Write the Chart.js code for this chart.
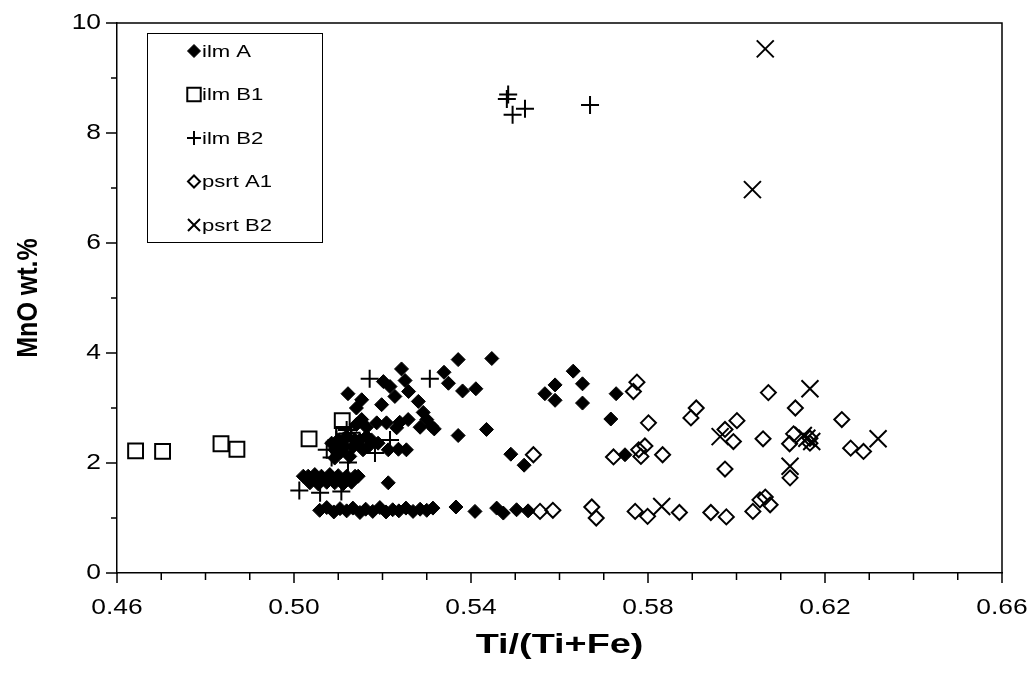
<!DOCTYPE html>
<html>
<head>
<meta charset="utf-8">
<script src="https://cdn.jsdelivr.net/npm/chart.js@4.4.1/dist/chart.umd.min.js"></script>
<style>
    html, body { margin: 0; padding: 0; background: #fff; }
    #wrap { width: 1027px; height: 682px; }
</style>
</head>
<body>
<div id="wrap"><canvas id="chart" width="1027" height="682"></canvas></div>
<script>
// Séries: [Ti/(Ti+Fe), MnO wt.%]
const ilmA = [
    [0.5371, 3.88], [0.5447, 3.90], [0.5339, 3.65], [0.5349, 3.45], [0.5381, 3.31], [0.5411, 3.35],
    [0.5631, 3.67], [0.5590, 3.42], [0.5652, 3.44], [0.5567, 3.26], [0.5590, 3.14], [0.5652, 3.09],
    [0.5728, 3.26], [0.5716, 2.80], [0.5371, 2.50], [0.5435, 2.61], [0.5490, 2.16], [0.5520, 1.96],
    [0.5748, 2.15], [0.5366, 1.20], [0.5409, 1.12], [0.5458, 1.18], [0.5473, 1.09], [0.5503, 1.15],
    [0.5529, 1.13],
    [0.5243, 3.71], [0.5202, 3.48], [0.5251, 3.50], [0.5217, 3.39], [0.5259, 3.30], [0.5122, 3.26],
    [0.5228, 3.21], [0.5153, 3.15], [0.5198, 3.06], [0.5281, 3.12], [0.5141, 3.00], [0.5292, 2.92],
    [0.5300, 2.79], [0.5311, 2.67], [0.5153, 2.79], [0.5187, 2.73], [0.5209, 2.73], [0.5239, 2.74],
    [0.5258, 2.79], [0.5141, 2.70], [0.5164, 2.65], [0.5232, 2.64], [0.5285, 2.65], [0.5317, 2.62],
    [0.5119, 2.48], [0.5164, 2.48], [0.5213, 2.24], [0.5236, 2.25], [0.5254, 2.24], [0.5100, 2.42],
    [0.5107, 2.21], [0.5092, 2.09], [0.5134, 2.30], [0.5149, 2.42], [0.5156, 2.24], [0.5126, 2.12],
    [0.5213, 1.64], [0.5085, 2.36], [0.5115, 2.30], [0.5138, 2.42], [0.5168, 2.30], [0.5175, 2.42],
    [0.5190, 2.36], [0.5092, 2.24],
    [0.5021, 1.76], [0.5032, 1.76], [0.5047, 1.79], [0.5062, 1.76], [0.5081, 1.79], [0.5100, 1.77],
    [0.5119, 1.76], [0.5138, 1.76], [0.5145, 1.76], [0.5036, 1.64], [0.5055, 1.62], [0.5074, 1.65],
    [0.5092, 1.64], [0.5111, 1.62], [0.5130, 1.65],
    [0.5058, 1.14], [0.5074, 1.19], [0.5090, 1.11], [0.5104, 1.17], [0.5119, 1.13], [0.5133, 1.18],
    [0.5149, 1.10], [0.5162, 1.16], [0.5178, 1.12], [0.5194, 1.19], [0.5208, 1.11], [0.5223, 1.15],
    [0.5237, 1.13], [0.5253, 1.18], [0.5269, 1.12], [0.5285, 1.16], [0.5300, 1.14], [0.5314, 1.18]
];
const ilmB1 = [
    [0.4642, 2.22], [0.4703, 2.21], [0.4835, 2.35], [0.4871, 2.25], [0.5034, 2.44], [0.5109, 2.77],
    [0.5112, 2.52], [0.5120, 2.40]
];
const ilmB2 = [
    [0.5484, 8.70], [0.5481, 8.62], [0.5494, 8.33], [0.5522, 8.44], [0.5669, 8.51], [0.5171, 3.53],
    [0.5307, 3.53], [0.5012, 1.50], [0.5074, 2.24], [0.5122, 2.01], [0.5183, 2.18], [0.5059, 1.46],
    [0.5107, 1.48], [0.5096, 2.42], [0.5119, 2.60], [0.5217, 2.42], [0.5130, 2.55], [0.5085, 2.10]
];
const psrtA1 = [
    [0.5541, 2.15], [0.5556, 1.12], [0.5585, 1.14], [0.5673, 1.20], [0.5683, 1.00], [0.5722, 2.11],
    [0.5767, 3.30], [0.5775, 3.47], [0.5771, 1.12], [0.5779, 2.24], [0.5801, 2.73], [0.5793, 2.31],
    [0.5784, 2.12], [0.5833, 2.15], [0.5799, 1.03], [0.5871, 1.10], [0.5942, 1.10], [0.5977, 1.02],
    [0.5909, 3.00], [0.5897, 2.82], [0.5974, 2.61], [0.6001, 2.77], [0.5993, 2.39], [0.5974, 1.89],
    [0.6060, 2.44], [0.6072, 3.28], [0.6133, 3.00], [0.6120, 2.35], [0.6129, 2.53], [0.6166, 2.36],
    [0.6121, 1.73], [0.6037, 1.12], [0.6053, 1.33], [0.6065, 1.38], [0.6076, 1.24], [0.6238, 2.79],
    [0.6258, 2.27], [0.6287, 2.21], [0.6166, 2.45]
];
const psrtB2 = [
    [0.6065, 9.53], [0.6036, 6.97], [0.5831, 1.21], [0.5963, 2.48], [0.6166, 3.35], [0.6121, 1.94],
    [0.6159, 2.45], [0.6170, 2.39], [0.6320, 2.44], [0.6151, 2.50]
];

const seriesNames = ['ilm A', 'ilm B1', 'ilm B2', 'psrt A1', 'psrt B2'];
const xTicks = [0.46, 0.50, 0.54, 0.58, 0.62, 0.66];
const xMinorTicks = [0.47, 0.48, 0.49, 0.51, 0.52, 0.53, 0.55, 0.56, 0.57, 0.59, 0.60, 0.61, 0.63, 0.64, 0.65];
const yTicks = [0, 2, 4, 6, 8, 10];
const yMinorTicks = [1, 3, 5, 7, 9];
const xTitle = 'Ti/(Ti+Fe)';
const yTitle = 'MnO wt.%';

const FONT = 'Arial, "Liberation Sans", sans-serif';

const toPoints = arr => arr.map(p => ({ x: p[0], y: p[1] }));

// Estilo dos marcadores (tipo Excel)
const markers = [
    { pointStyle: 'rectRot', radius: 7, borderWidth: 1, backgroundColor: '#000', legendRadius: 6.5 },
    { pointStyle: 'rect', radius: 10.5, borderWidth: 2, backgroundColor: 'rgba(0,0,0,0)', legendRadius: 9.5 },
    { pointStyle: 'cross', radius: 9, borderWidth: 2, backgroundColor: 'rgba(0,0,0,0)', legendRadius: 7 },
    { pointStyle: 'rectRot', radius: 7.5, borderWidth: 2, backgroundColor: 'rgba(0,0,0,0)', legendRadius: 6 },
    { pointStyle: 'crossRot', radius: 12, borderWidth: 2, backgroundColor: 'rgba(0,0,0,0)', legendRadius: 8.5 }
];

const allSeries = [ilmA, ilmB1, ilmB2, psrtA1, psrtB2];

const datasets = allSeries.map((s, i) => ({
    label: seriesNames[i],
    data: toPoints(s),
    pointStyle: markers[i].pointStyle,
    pointRadius: markers[i].radius,
    pointHoverRadius: markers[i].radius,
    pointBorderWidth: markers[i].borderWidth,
    pointBorderColor: '#000',
    pointBackgroundColor: markers[i].backgroundColor,
    borderColor: '#000',
    backgroundColor: markers[i].backgroundColor,
    showLine: false
}));

// texto com leve esticamento horizontal, como no original
function stretchText(ctx, text, x, y, align, font, sx, rotate) {
    ctx.save();
    ctx.font = font;
    ctx.fillStyle = '#000';
    ctx.textBaseline = 'middle';
    ctx.textAlign = align;
    ctx.translate(x, y);
    if (rotate) {
        ctx.rotate(-Math.PI / 2);
        ctx.scale(1, sx);
    } else {
        ctx.scale(sx, 1);
    }
    ctx.fillText(text, 0, 0);
    ctx.restore();
}

// Moldura, ticks, rótulos e legenda
const extras = {
    id: 'extras',
    afterDraw(chart) {
        const ctx = chart.ctx;
        const { left, right, top, bottom } = chart.chartArea;
        const xs = chart.scales.x;
        const ys = chart.scales.y;
        ctx.save();
        ctx.strokeStyle = '#000';
        ctx.lineWidth = 1.5;
        ctx.beginPath();
        ctx.moveTo(left, top);
        ctx.lineTo(right, top);
        ctx.lineTo(right, bottom);
        xTicks.forEach(v => {
            const px = xs.getPixelForValue(v);
            ctx.moveTo(px, bottom);
            ctx.lineTo(px, bottom + 10);
        });
        xMinorTicks.forEach(v => {
            const px = xs.getPixelForValue(v);
            ctx.moveTo(px, bottom);
            ctx.lineTo(px, bottom + 7);
        });
        yTicks.forEach(v => {
            const py = ys.getPixelForValue(v);
            ctx.moveTo(left - 11, py);
            ctx.lineTo(left, py);
        });
        yMinorTicks.forEach(v => {
            const py = ys.getPixelForValue(v);
            ctx.moveTo(left - 6, py);
            ctx.lineTo(left, py);
        });
        ctx.stroke();

        // rótulos dos eixos
        const tickFont = '22px ' + FONT;
        xTicks.forEach(v => stretchText(ctx, v.toFixed(2), xs.getPixelForValue(v), 608, 'center', tickFont, 1.2));
        yTicks.forEach(v => stretchText(ctx, String(v), 101, ys.getPixelForValue(v), 'right', tickFont, 1.2));
        stretchText(ctx, xTitle, (left + right) / 2, 646, 'center', 'bold 27px ' + FONT, 1.4);
        stretchText(ctx, yTitle, 29, (top + bottom) / 2, 'center', 'bold 25px ' + FONT, 1.2, true);

        // legenda
        const bx = 147, by = 33, bw = 175, bh = 209;
        ctx.fillStyle = '#fff';
        ctx.fillRect(bx, by, bw, bh);
        ctx.strokeStyle = '#000';
        ctx.lineWidth = 1;
        ctx.strokeRect(bx + 0.5, by + 0.5, bw, bh);
        chart.data.datasets.forEach((ds, i) => {
            const cy = by + 18 + i * 43.5;
            const m = markers[i];
            ctx.fillStyle = m.backgroundColor;
            ctx.strokeStyle = '#000';
            ctx.lineWidth = m.borderWidth;
            Chart.helpers.drawPoint(ctx, {
                pointStyle: m.pointStyle,
                radius: m.legendRadius,
                borderWidth: m.borderWidth,
                rotation: 0
            }, 194, cy);
            stretchText(ctx, ds.label, 202, cy + 1, 'left', '17px ' + FONT, 1.3);
        });
        ctx.restore();
    }
};

new Chart(document.getElementById('chart'), {
    type: 'scatter',
    data: { datasets },
    options: {
        responsive: false,
        animation: false,
        events: [],
        layout: { padding: { left: 0, top: 23, right: 25, bottom: 0 } },
        plugins: {
            legend: { display: false },
            tooltip: { enabled: false }
        },
        scales: {
            x: {
                type: 'linear',
                min: 0.46,
                max: 0.66,
                afterBuildTicks: s => { s.ticks = xTicks.map(v => ({ value: v })); },
                afterFit: s => { s.height = 109; },
                ticks: { display: false },
                grid: { display: false },
                border: { display: true, color: '#000', width: 1.5 }
            },
            y: {
                type: 'linear',
                min: 0,
                max: 10,
                afterBuildTicks: s => { s.ticks = yTicks.map(v => ({ value: v })); },
                afterFit: s => { s.width = 117; },
                ticks: { display: false },
                grid: { display: false },
                border: { display: true, color: '#000', width: 1.5 }
            }
        }
    },
    plugins: [extras]
});
</script>
</body>
</html>
